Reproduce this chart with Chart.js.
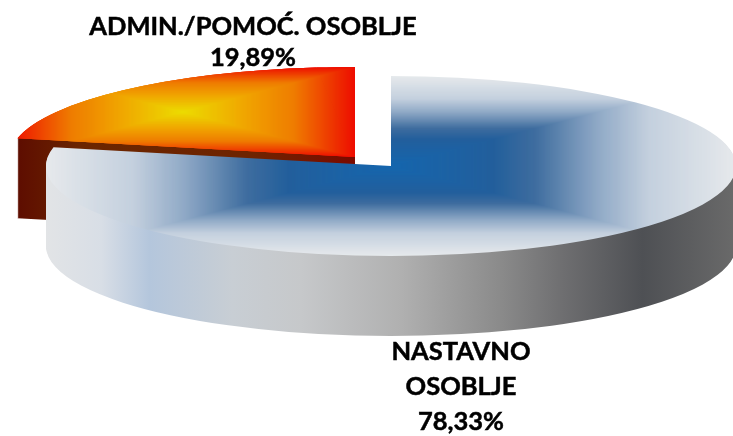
<!DOCTYPE html>
<html>
<head>
<meta charset="utf-8">
<style>
  html, body { margin: 0; padding: 0; background: #fff; }
  canvas { display: block; }
</style>
<script src="https://cdn.jsdelivr.net/npm/chart.js@4"></script>
</head>
<body>
<canvas id="staffPie" width="733" height="436"></canvas>
<script>
// Values. The third one is the unlabelled rest up to 100 %,
// in the picture it is part of the orange slice.
const categories = ["NASTAVNO OSOBLJE", "ADMIN./POMOĆ. OSOBLJE", ""];
const shares = [78.33, 19.89, 1.78];
const shareLabels = ["78,33%", "19,89%"];

const W = 733, H = 436;
const localCx = W / 2, localCy = H / 2, localR = H / 2;

// how the flat pie is laid down on the page
const pieCx = 391, pieCy = 166, pieRx = 345, pieRy = 90, pieDepth = 80;
const explode = [[0, 0], [-36, -9], [-36, -9]];

const blueStops = [
    [0, [21, 102, 174]], [0.3, [35, 95, 156]], [0.42, [63, 109, 159]],
    [0.6, [143, 169, 198]], [0.75, [196, 208, 222]], [1, [230, 233, 236]],
];
const fireStops = [
    [0, [236, 220, 0]], [0.35, [240, 168, 0]], [0.65, [239, 124, 0]], [1, [238, 14, 0]],
];

function colorAt(stops, t) {
    for (let i = 1; i < stops.length; i++) {
        if (t <= stops[i][0]) {
            const a = stops[i - 1], b = stops[i];
            const k = (t - a[0]) / (b[0] - a[0]);
            const c = a[1].map((v, j) => Math.round(v + (b[1][j] - v) * k));
            return `rgb(${c[0]},${c[1]},${c[2]})`;
        }
    }
    const last = stops[stops.length - 1][1];
    return `rgb(${last[0]},${last[1]},${last[2]})`;
}

// Gradient running from the centre out to a rectangle, like the Excel fill
function rectPattern(stops, cx, cy, hw, hh) {
    const off = document.createElement("canvas");
    off.width = W;
    off.height = H;
    const o = off.getContext("2d");
    o.fillStyle = colorAt(stops, 1);
    o.fillRect(0, 0, W, H);
    const steps = 220;
    for (let i = steps; i > 0; i--) {
        const t = i / steps;
        o.fillStyle = colorAt(stops, t);
        o.fillRect(cx - hw * t, cy - hh * t, 2 * hw * t, 2 * hh * t);
    }
    return o.createPattern(off, "no-repeat");
}

const canvas = document.getElementById("staffPie");
const ctx = canvas.getContext("2d");

function wallGradient(stops) {
    const g = ctx.createLinearGradient(localCx - localR, 0, localCx + localR, 0);
    stops.forEach((s) => g.addColorStop(s[0], s[1]));
    return g;
}

const blueWall = wallGradient([
    [0, "#e2e4e6"], [0.08, "#d8dee6"], [0.15, "#b4c6dc"], [0.27, "#c8ced4"],
    [0.37, "#c6c8ca"], [0.515, "#b0b0b0"], [0.66, "#8a8a8a"], [0.75, "#6e6e70"],
    [0.865, "#4e5054"], [1, "#6a6a6a"],
]);
const fireWall = wallGradient([
    [0, "#5c0a00"], [0.1, "#6b2500"], [0.35, "#6e2400"], [0.5, "#7a0a00"], [1, "#7a0a00"],
]);

const bluePattern = rectPattern(blueStops, localCx, localCy, localR, localR);
const firePattern = rectPattern(fireStops, localCx - localR / 2, localR / 2, localR / 2, localR / 2);

function placeSlice(c, el, i, drop) {
    c.translate(pieCx + explode[i][0], pieCy + explode[i][1] + drop);
    c.scale(pieRx / el.outerRadius, pieRy / el.outerRadius);
    c.translate(-el.x, -el.y);
}

function drawSlice(c, el, i, fill, drop) {
    const saved = el.options;
    el.options = {
        backgroundColor: fill, borderWidth: 0, borderColor: fill, offset: 0, spacing: 0,
        borderRadius: 0, borderAlign: "center", circular: true,
    };
    c.save();
    placeSlice(c, el, i, drop);
    el.draw(c);
    c.restore();
    el.options = saved;
}

function drawWall(c, el, i, fill) {
    for (let d = pieDepth; d > 0; d--) {
        drawSlice(c, el, i, fill, d);
    }
}

// Lays the pie down and gives it a side wall
const pie3d = {
    id: "pie3d",
    beforeDatasetsDraw(chart) {
        const c = chart.ctx;
        const arcs = chart.getDatasetMeta(0).data;
        // back slice first so the big slice covers its wall
        drawWall(c, arcs[1], 1, fireWall);
        drawWall(c, arcs[2], 2, fireWall);
        for (let n = 0; n < 3; n++) {
            drawSlice(c, arcs[1], 1, firePattern, 0);
            drawSlice(c, arcs[2], 2, firePattern, 0);
        }
        drawWall(c, arcs[0], 0, blueWall);
        drawSlice(c, arcs[0], 0, bluePattern, 0);
        return false;
    },
    afterDraw(chart) {
        const c = chart.ctx;
        c.save();
        c.fillStyle = "#000";
        c.strokeStyle = "#000";
        c.lineWidth = 0.5;
        c.font = "700 25.5px Lato, 'Open Sans', sans-serif";
        c.textAlign = "center";
        c.textBaseline = "middle";
        const words = categories[0].split(" ");
        const lines = [
            [categories[1], 253, 27], [shareLabels[1], 253, 58],
            [words[0], 461, 352], [words[1], 461, 387], [shareLabels[0], 461, 422],
        ];
        lines.forEach((l) => {
            c.fillText(l[0], l[1], l[2]);
            c.strokeText(l[0], l[1], l[2]);
        });
        c.restore();
    },
};

new Chart(ctx, {
    type: "pie",
    data: {
        labels: categories,
        datasets: [
            {
                data: shares,
                backgroundColor: [bluePattern, firePattern, firePattern],
                borderWidth: 0,
            },
        ],
    },
    options: {
        responsive: false,
        animation: false,
        events: [],
        plugins: {
            legend: { display: false },
            tooltip: { enabled: false },
        },
    },
    plugins: [pie3d],
});
</script>
</body>
</html>
